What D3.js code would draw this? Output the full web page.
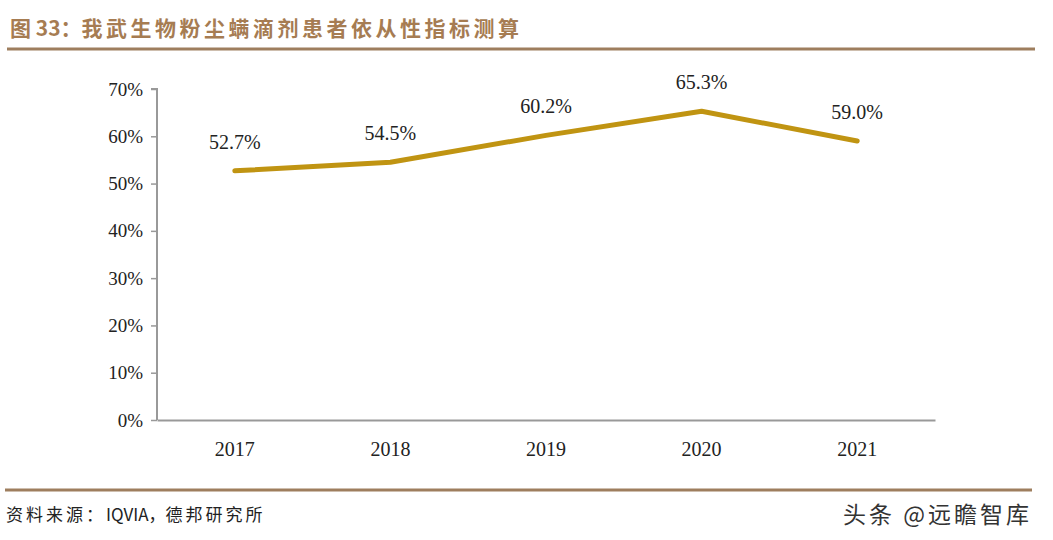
<!DOCTYPE html>
<html>
<head>
<meta charset="utf-8">
<script src="https://cdn.jsdelivr.net/npm/d3@7"></script>
<style>
body { margin: 0; background: #fff; }
</style>
</head>
<body>
<svg id="chart" width="1053" height="540"></svg>
<script>
// data
const years = ["2017", "2018", "2019", "2020", "2021"];
const compliance = [52.7, 54.5, 60.2, 65.3, 59.0];
const yTicks = [0, 10, 20, 30, 40, 50, 60, 70];

const svg = d3.select("#chart");
const serif = "'Liberation Serif', 'Times New Roman', serif";
const cjk = "'Noto Sans CJK SC', sans-serif";

// title and rule
const title = svg.append("text")
	.attr("x", 10).attr("y", 36)
	.attr("fill", "#a67c52")
	.style("font-family", cjk)
	.style("font-size", "21px")
	.style("font-weight", "bold");
title.append("tspan").text("图 33：");
title.append("tspan")
	.style("letter-spacing", "3.5px")
	.text("我武生物粉尘螨滴剂患者依从性指标测算");
svg.append("line")
	.attr("x1", 7).attr("x2", 1035).attr("y1", 49).attr("y2", 49)
	.attr("stroke", "#9e7e5e").attr("stroke-width", 3);

const margin = {top: 89, left: 157, right: 1053 - 935, bottom: 540 - 420};
const width = 1053 - margin.left - margin.right,
	height = 540 - margin.top - margin.bottom;

const x = d3.scaleBand().domain(years).range([0, width]);
const y = d3.scaleLinear().domain([0, 70]).range([height, 0]);

const g = svg.append("g")
	.attr("transform", `translate(${margin.left},${margin.top})`);

// y axis
const yAxis = g.append("g")
	.call(d3.axisLeft(y).tickValues(yTicks).tickFormat(d => d + "%").tickSize(6).tickPadding(8));
yAxis.select(".domain").attr("stroke", "#999").attr("stroke-width", 2).attr("d", `M-6,0H0V${height}`);
yAxis.selectAll(".tick line").attr("stroke", "#999").attr("stroke-width", 1.5);
yAxis.selectAll(".tick text")
	.attr("fill", "#222")
	.style("font-family", serif)
	.style("font-size", "19px");

// x axis
const xAxis = g.append("g")
	.attr("transform", `translate(0,${height})`)
	.call(d3.axisBottom(x).tickSize(0).tickPadding(22));
xAxis.select(".domain").attr("stroke", "#999").attr("stroke-width", 2);
xAxis.selectAll(".tick text")
	.attr("fill", "#222")
	.style("font-family", serif)
	.style("font-size", "20px");

// line
const cx = d => x(d) + x.bandwidth() / 2;
const line = d3.line()
	.x((d, i) => cx(years[i]))
	.y(d => y(d));
g.append("path")
	.datum(compliance)
	.attr("fill", "none")
	.attr("stroke", "#c09412")
	.attr("stroke-width", 5)
	.attr("stroke-linejoin", "round")
	.attr("stroke-linecap", "round")
	.attr("d", line);

// value labels
g.selectAll(".lbl")
	.data(compliance)
	.enter().append("text")
	.attr("class", "lbl")
	.attr("x", (d, i) => cx(years[i]))
	.attr("y", d => y(d) - 22)
	.attr("text-anchor", "middle")
	.attr("fill", "#222")
	.style("font-family", serif)
	.style("font-size", "20px")
	.text(d => d.toFixed(1) + "%");

// footer
svg.append("line")
	.attr("x1", 5).attr("x2", 1032).attr("y1", 490).attr("y2", 490)
	.attr("stroke", "#9e7e5e").attr("stroke-width", 3);
const src = svg.append("text")
	.attr("x", 6).attr("y", 521)
	.attr("fill", "#222")
	.style("font-family", cjk)
	.style("font-size", "17px");
src.append("tspan").style("letter-spacing", "3px").text("资料来源：");
src.append("tspan").text("IQVIA，");
src.append("tspan").style("letter-spacing", "3px").text("德邦研究所");
svg.append("text")
	.attr("x", 1032).attr("y", 523)
	.attr("text-anchor", "end")
	.attr("fill", "#333")
	.style("font-family", cjk)
	.style("font-size", "23px")
	.style("letter-spacing", "3px")
	.text("头条 @远瞻智库");
</script>
</body>
</html>
